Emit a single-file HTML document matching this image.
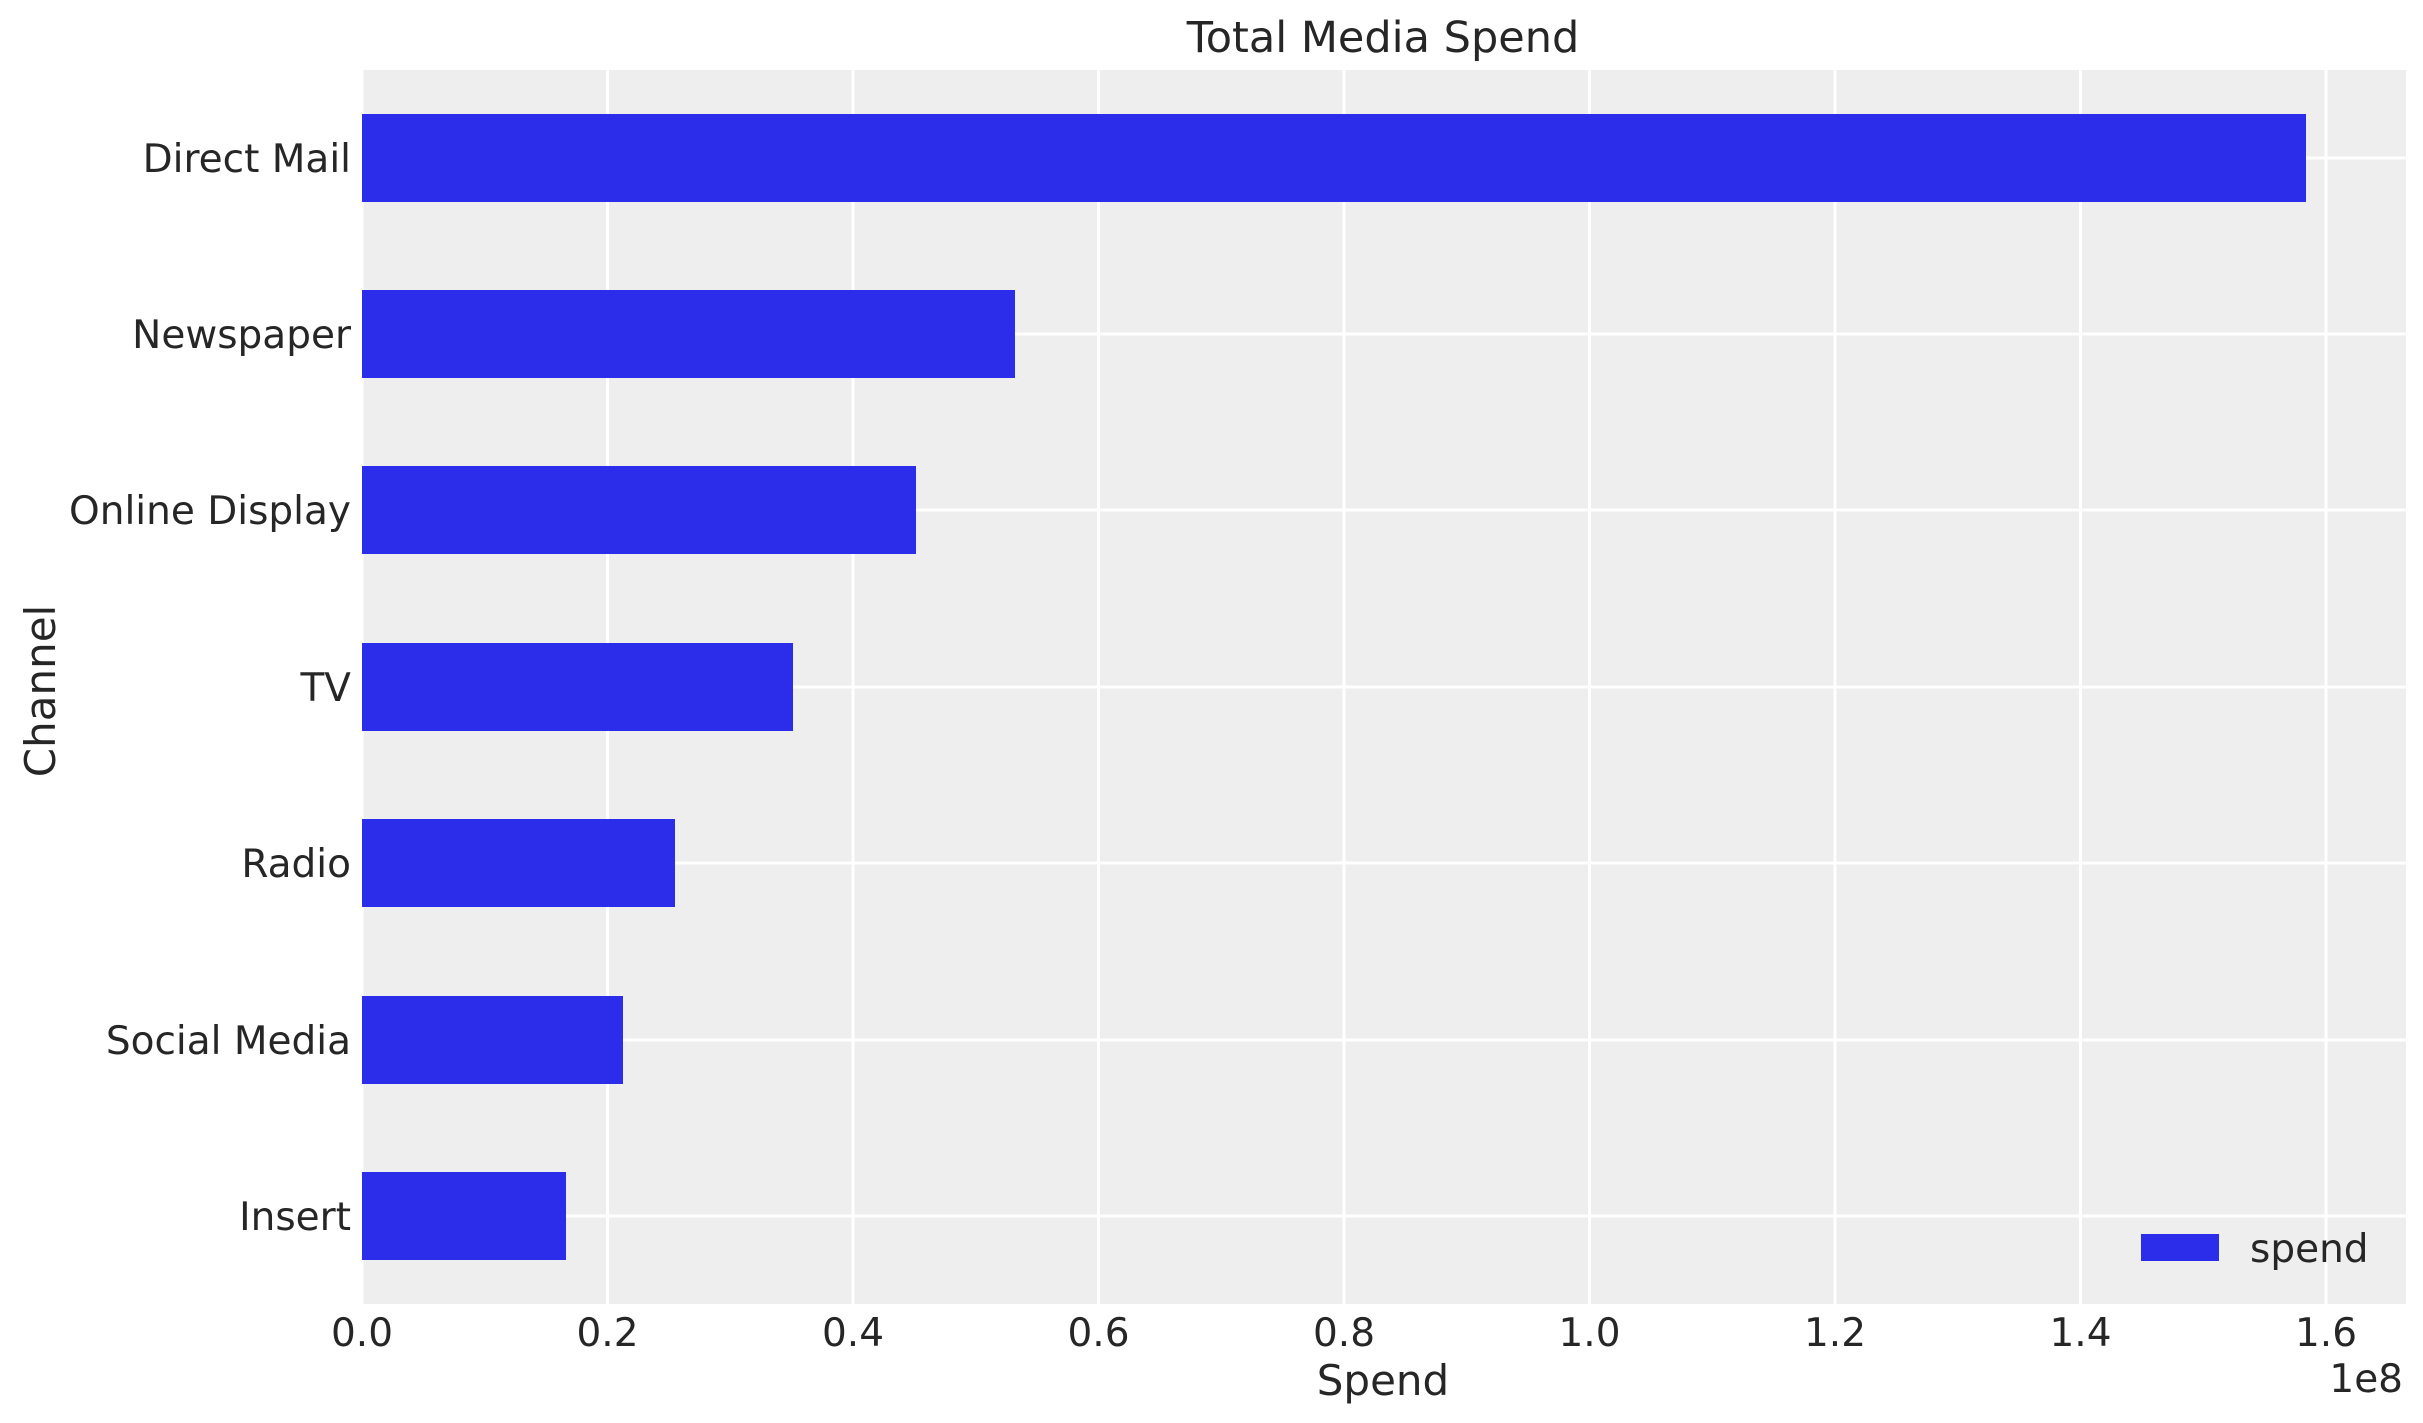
<!DOCTYPE html>
<html><head><meta charset="utf-8"><style>
html,body{margin:0;padding:0;background:#fff;}
svg{display:block;font-family:"DejaVu Sans","Liberation Sans",sans-serif;fill:#262626;}
</style></head><body>
<svg width="2423" height="1423" viewBox="0 0 2423 1423" xmlns="http://www.w3.org/2000/svg">
<rect x="362" y="70" width="2044" height="1234" fill="#eeeeee"/>
<g stroke="#ffffff" stroke-width="3">
<line x1="362" y1="70" x2="362" y2="1304"/>
<line x1="607.5" y1="70" x2="607.5" y2="1304"/>
<line x1="853" y1="70" x2="853" y2="1304"/>
<line x1="1098.5" y1="70" x2="1098.5" y2="1304"/>
<line x1="1344" y1="70" x2="1344" y2="1304"/>
<line x1="1589.5" y1="70" x2="1589.5" y2="1304"/>
<line x1="1835" y1="70" x2="1835" y2="1304"/>
<line x1="2080.5" y1="70" x2="2080.5" y2="1304"/>
<line x1="2326" y1="70" x2="2326" y2="1304"/>
<line x1="362" y1="158" x2="2406" y2="158"/>
<line x1="362" y1="334" x2="2406" y2="334"/>
<line x1="362" y1="510" x2="2406" y2="510"/>
<line x1="362" y1="687" x2="2406" y2="687"/>
<line x1="362" y1="863" x2="2406" y2="863"/>
<line x1="362" y1="1040" x2="2406" y2="1040"/>
<line x1="362" y1="1216" x2="2406" y2="1216"/>
</g>
<g fill="#2b2deb">
<rect x="362" y="114" width="1944" height="88"/>
<rect x="362" y="290" width="653" height="88"/>
<rect x="362" y="466" width="554" height="88"/>
<rect x="362" y="643" width="431" height="88"/>
<rect x="362" y="819" width="313" height="88"/>
<rect x="362" y="996" width="261" height="88"/>
<rect x="362" y="1172" width="204" height="88"/>
</g>
<g font-size="39" text-anchor="end">
<text x="351" y="172">Direct Mail</text>
<text x="351" y="348">Newspaper</text>
<text x="351" y="524">Online Display</text>
<text x="351" y="701">TV</text>
<text x="351" y="877">Radio</text>
<text x="351" y="1054">Social Media</text>
<text x="351" y="1230">Insert</text>
</g>
<g font-size="39" text-anchor="middle">
<text x="362" y="1346">0.0</text>
<text x="607.5" y="1346">0.2</text>
<text x="853" y="1346">0.4</text>
<text x="1098.5" y="1346">0.6</text>
<text x="1344" y="1346">0.8</text>
<text x="1589.5" y="1346">1.0</text>
<text x="1835" y="1346">1.2</text>
<text x="2080.5" y="1346">1.4</text>
<text x="2326" y="1346">1.6</text>
</g>
<text x="2403" y="1392" font-size="39" text-anchor="end">1e8</text>
<text x="1383" y="1395" font-size="42" text-anchor="middle">Spend</text>
<text x="1383" y="52" font-size="43" text-anchor="middle">Total Media Spend</text>
<text transform="translate(55,691) rotate(-90)" font-size="42" text-anchor="middle">Channel</text>
<rect x="2141" y="1234" width="78" height="27" fill="#2b2deb"/>
<text x="2250" y="1262" font-size="39">spend</text>
</svg>
</body></html>
